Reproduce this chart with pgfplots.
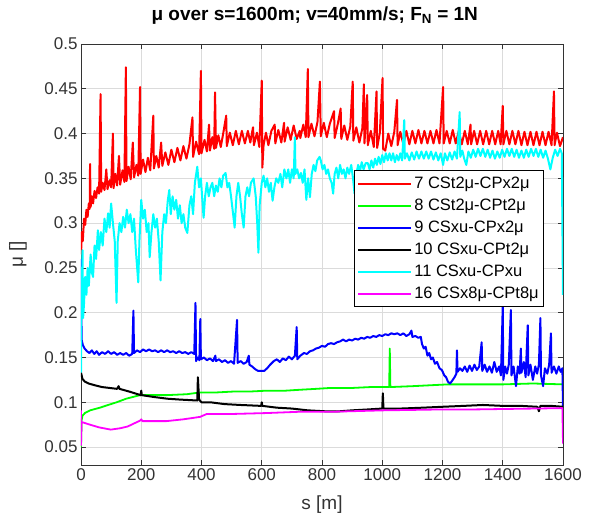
\documentclass[border=0pt]{standalone}
\usepackage{fontspec}
\setmainfont{Liberation Sans}
\usepackage{pgfplots}
\pgfplotsset{compat=1.18}

\definecolor{mred}{rgb}{1,0,0}
\definecolor{mgreen}{rgb}{0,1,0}
\definecolor{mblue}{rgb}{0,0,1}
\definecolor{mcyan}{rgb}{0,1,1}
\definecolor{mmag}{rgb}{1,0,1}
\definecolor{axgray}{gray}{0.2}

\begin{document}
\begin{tikzpicture}
\useasboundingbox (-81pt,-57pt) rectangle (509pt,465pt);
\begin{axis}[
  scale only axis, width=482pt, height=421pt,
  xmin=0, xmax=1600, ymin=0.03, ymax=0.5,
  xtick={0,200,...,1600},
  ytick={0.05,0.1,0.15,0.2,0.25,0.3,0.35,0.4,0.45,0.5},
  yticklabels={0.05,0.1,0.15,0.2,0.25,0.3,0.35,0.4,0.45,0.5},
  /pgf/number format/assume math mode=true,
  /pgf/number format/1000 sep={},
  tick label style={font=\fontsize{17}{20}\selectfont, text=axgray},
  tick align=inside, major tick length=5pt,
  every tick/.style={axgray, line width=0.6pt},
  axis line style={axgray, line width=0.6pt},
  grid=major, major grid style={black!14, line width=0.6pt},
  title={\textbf{μ over s=1600m; v=40mm/s; F\textsubscript{N} = 1N}},
  title style={font=\fontsize{19}{22}\selectfont, at={(axis description cs:0.485,1.0416)}, anchor=base},
  xlabel={s [m]}, ylabel={μ []},
  xlabel style={font=\fontsize{19}{22}\selectfont, text=axgray, at={(axis description cs:0.5,-0.095)}, anchor=center},
  ylabel style={font=\fontsize{19}{22}\selectfont, text=axgray, at={(axis description cs:-0.131,0.5)}, anchor=center, rotate=0},
  legend style={at={(0.566,0.7)}, anchor=north west, draw=black, fill=white, line width=0.6pt,
    font=\fontsize{16.5}{19}\selectfont, row sep=5pt, inner xsep=3pt, inner ysep=4.5pt},
  legend cell align=left,
  legend image code/.code={\draw[#1, line width=2.2pt] (0pt,0pt) -- (53pt,0pt);},
  every axis plot/.append style={line join=round},
]
% 7 CSt2u-CPx2u
\addplot[mred, line width=2pt] coordinates {
(0,0.265)(3,0.29)(6,0.28)(10,0.305)(14,0.298)(18,0.315)(22,0.307)(26,0.322)(29,0.316)(30,0.366)(32,0.318)(36,0.33)(40,0.322)(45,0.336)(50,0.328)(55,0.34)(60,0.333)(65,0.444)(67,0.335)(72,0.345)(78,0.337)(84,0.36)(88,0.338)(95,0.348)(100,0.34)(106,0.40)
(108,0.339)(114,0.355)(120,0.342)(126,0.375)(130,0.343)(138,0.359)(144,0.346)(149,0.474)(151,0.347)(158,0.363)(165,0.349)(172,0.39)(176,0.351)(184,0.365)(190,0.353)(196,0.452)(198,0.355)(206,0.371)(214,0.357)(222,0.373)(230,0.359)(240,0.42)(242,0.361)(250,0.375)(258,0.362)(266,0.39)(270,0.364)(280,0.379)(290,0.365)(300,0.382)(310,0.368)(320,0.384)(330,0.37)(340,0.386)(350,0.372)(360,0.388)(370,0.418)(372,0.374)(382,0.391)(392,0.377)(398,0.47)(400,0.378)(410,0.393)(418,0.38)(425,0.41)(428,0.381)(436,0.396)(442,0.383)(445,0.446)(448,0.384)(456,0.398)(464,0.385)(472,0.4)(482,0.42)(484,0.386)(494,0.401)(504,0.387)(514,0.403)(524,0.388)(534,0.403)(544,0.389)(554,0.403)(562,0.39)(571,0.407)(574,0.387)(584,0.401)(592,0.385)(600,0.459)(602,0.362)(606,0.387)(614,0.401)(622,0.387)(632,0.403)(643,0.41)(645,0.389)(655,0.404)(665,0.39)(674,0.412)(676,0.391)(686,0.407)(696,0.393)(706,0.409)(716,0.394)(726,0.403)(728,0.395)(738,0.41)(746,0.396)(753,0.472)(755,0.396)(765,0.411)(775,0.397)(785,0.413)(793,0.458)(796,0.397)(806,0.412)(816,0.396)(826,0.411)(840,0.425)(842,0.395)(852,0.41)(862,0.428)(864,0.394)(874,0.409)(884,0.393)(894,0.408)(902,0.458)(904,0.392)(914,0.407)(924,0.39)(934,0.406)(939,0.455)(941,0.389)(950,0.443)(952,0.387)(962,0.403)(972,0.385)(981,0.447)(983,0.384)(992,0.401)(1001,0.462)(1003,0.383)(1010,0.381)(1020,0.4)(1030,0.386)(1040,0.402)(1049,0.4375)(1051,0.387)(1060,0.402)(1070,0.388)(1080,0.403)(1090,0.388)(1100,0.403)(1110,0.389)(1120,0.404)(1130,0.389)(1140,0.403)(1150,0.389)(1160,0.403)(1170,0.389)(1180,0.404)(1190,0.389)(1202,0.452)(1204,0.389)(1214,0.403)(1224,0.389)(1234,0.404)(1244,0.389)(1254,0.403)(1264,0.388)(1274,0.403)(1284,0.388)(1293,0.41)(1295,0.388)(1305,0.403)(1315,0.388)(1325,0.403)(1335,0.388)(1345,0.403)(1355,0.388)(1365,0.403)(1375,0.388)(1385,0.403)(1393,0.388)(1400,0.431)(1402,0.388)(1412,0.403)(1422,0.388)(1432,0.403)(1442,0.388)(1452,0.403)(1462,0.387)(1472,0.402)(1482,0.387)(1492,0.402)(1502,0.387)(1512,0.402)(1522,0.387)(1532,0.402)(1542,0.387)(1552,0.402)(1562,0.387)(1570,0.447)(1572,0.387)(1580,0.401)(1590,0.386)(1600,0.396)
};
\addlegendentry{7 CSt2μ-CPx2μ}
% 8 CSt2u-CPt2u
\addplot[mgreen, line width=1.8pt] coordinates {
(0,0.05)(2,0.08)(5,0.085)(13,0.088)(30,0.091)(63,0.094)(90,0.097)(118,0.1)(150,0.104)(196,0.108)(230,0.108)(284,0.108)(351,0.109)(395,0.111)(450,0.111)(506,0.112)(560,0.112)(617,0.113)(680,0.113)(727,0.114)(780,0.115)(827,0.116)(900,0.116)(960,0.117)(1023,0.117)(1025,0.16)(1027,0.117)(1100,0.118)(1218,0.12)(1300,0.12)(1400,0.12)(1500,0.121)(1600,0.12)
};
\addlegendentry{8 CSt2μ-CPt2μ}
% 9 CSxu-CPx2u
\addplot[mblue, line width=2pt] coordinates {
(0,0.26)(2,0.17)(6,0.164)(12,0.16)(20,0.157)(28,0.155)(36,0.158)(44,0.154)(52,0.157)(60,0.153)(70,0.156)(80,0.154)(90,0.157)(100,0.154)(110,0.156)(120,0.153)(130,0.155)(140,0.153)(150,0.155)(160,0.152)(170,0.154)(174,0.2023)(176,0.155)(186,0.158)(196,0.156)(206,0.159)(216,0.157)(226,0.159)(236,0.157)(246,0.158)(256,0.156)(266,0.158)(276,0.156)(286,0.158)(296,0.156)(306,0.157)(316,0.155)(326,0.157)(336,0.155)(346,0.156)(356,0.154)(366,0.156)(376,0.154)(380,0.211)(382,0.146)(388,0.15)(393,0.147)(396,0.193)(398,0.148)(408,0.15)(418,0.147)(428,0.149)(438,0.146)(446,0.152)(448,0.146)(458,0.148)(468,0.145)(478,0.147)(488,0.144)(498,0.146)(508,0.143)(518,0.192)(520,0.144)(530,0.146)(540,0.143)(550,0.145)(557,0.152)(559,0.142)(568,0.14)(578,0.137)(588,0.135)(598,0.135)(608,0.135)(618,0.138)(628,0.142)(640,0.146)(650,0.148)(660,0.145)(670,0.149)(680,0.147)(690,0.151)(700,0.148)(710,0.152)(716,0.184)(718,0.148)(728,0.152)(740,0.155)(750,0.154)(760,0.157)(770,0.158)(780,0.16)(790,0.161)(800,0.163)(810,0.162)(820,0.165)(830,0.166)(840,0.165)(850,0.167)(860,0.168)(870,0.17)(880,0.168)(890,0.17)(900,0.169)(910,0.171)(920,0.17)(930,0.172)(940,0.171)(950,0.173)(960,0.172)(970,0.174)(980,0.173)(990,0.175)(1000,0.174)(1010,0.176)(1020,0.175)(1030,0.177)(1040,0.176)(1050,0.177)(1060,0.175)(1070,0.177)(1080,0.174)(1090,0.176)(1097,0.18)(1100,0.173)(1110,0.174)(1120,0.172)(1128,0.173)(1132,0.165)(1138,0.16)(1144,0.162)(1150,0.152)(1156,0.155)(1162,0.148)(1168,0.15)(1175,0.143)(1182,0.145)(1190,0.138)(1198,0.136)(1206,0.13)(1212,0.128)(1218,0.123)(1225,0.121)(1232,0.124)(1240,0.128)(1246,0.132)(1248,0.158)(1250,0.134)(1258,0.138)(1266,0.135)(1274,0.14)(1282,0.134)(1290,0.141)(1298,0.135)(1306,0.142)(1314,0.136)(1322,0.14)(1330,0.167)(1332,0.135)(1340,0.142)(1348,0.134)(1356,0.14)(1364,0.133)(1372,0.145)(1380,0.134)(1388,0.14)(1394,0.13)(1400,0.207)(1402,0.125)(1408,0.14)(1414,0.132)(1420,0.142)(1427,0.203)(1429,0.13)(1436,0.14)(1444,0.118)(1450,0.14)(1456,0.132)(1460,0.16)(1462,0.133)(1470,0.145)(1476,0.128)(1483,0.186)(1485,0.13)(1492,0.142)(1500,0.125)(1508,0.14)(1514,0.132)(1520,0.142)(1525,0.194)(1527,0.13)(1534,0.118)(1540,0.138)(1548,0.132)(1554,0.142)(1560,0.177)(1562,0.133)(1570,0.14)(1578,0.132)(1586,0.14)(1592,0.134)(1598,0.138)(1600,0.095)
};
\addlegendentry{9 CSxu-CPx2μ}
% 10 CSxu-CPt2u
\addplot[black, line width=2pt] coordinates {
(0,0.133)(5,0.126)(13,0.123)(25,0.121)(46,0.119)(70,0.117)(95,0.116)(120,0.115)(125,0.118)(128,0.115)(160,0.112)(198,0.108)(200,0.113)(202,0.108)(240,0.106)(287,0.104)(330,0.103)(386,0.102)(388,0.128)(392,0.103)(400,0.1)(430,0.1)(476,0.098)(530,0.097)(598,0.096)(600,0.1)(602,0.096)(650,0.094)(700,0.093)(753,0.091)(808,0.09)(860,0.09)(900,0.091)(952,0.092)(1000,0.093)(1002,0.11)(1004,0.093)(1060,0.093)(1135,0.094)(1200,0.095)(1270,0.096)(1334,0.097)(1400,0.096)(1460,0.096)(1515,0.095)(1520,0.09)(1525,0.096)(1560,0.096)(1600,0.095)
};
\addlegendentry{10 CSxu-CPt2μ}
% 11 CSxu-CPxu
\addplot[mcyan, line width=2pt] coordinates {
(0,0.133)(1,0.25)(3,0.22)(5,0.27)(7,0.194)(10,0.21)(14,0.24)(18,0.22)(22,0.25)(26,0.23)(32,0.265)(36,0.245)(40,0.24)(45,0.275)(50,0.26)(56,0.292)(60,0.27)(66,0.29)(72,0.275)(78,0.305)(84,0.29)(90,0.311)(95,0.295)(100,0.322)(106,0.3)(112,0.28)(118,0.211)(122,0.28)(128,0.3)(134,0.29)(140,0.307)(146,0.295)(152,0.315)(158,0.3)(164,0.31)(170,0.29)(176,0.305)(182,0.27)(190,0.234)(194,0.28)(200,0.326)(206,0.305)(212,0.315)(218,0.29)(224,0.3)(228,0.262)(234,0.29)(240,0.31)(246,0.295)(252,0.305)(258,0.28)(264,0.236)(270,0.29)(276,0.31)(282,0.3)(288,0.325)(293,0.337)(298,0.31)(304,0.33)(310,0.315)(316,0.326)(322,0.305)(328,0.32)(334,0.3)(340,0.31)(346,0.295)(353,0.289)(360,0.32)(366,0.33)(372,0.31)(378,0.345)(386,0.363)(392,0.34)(398,0.35)(403,0.325)(407,0.306)(412,0.33)(418,0.345)(424,0.33)(430,0.34)(436,0.345)(442,0.33)(448,0.342)(454,0.335)(460,0.35)(466,0.34)(472,0.353)(480,0.356)(486,0.34)(492,0.345)(498,0.33)(505,0.31)(510,0.295)(516,0.33)(522,0.345)(528,0.33)(534,0.31)(540,0.295)(546,0.33)(552,0.34)(558,0.33)(564,0.345)(573,0.35)(580,0.33)(585,0.3)(589,0.267)(593,0.32)(600,0.345)(606,0.353)(612,0.34)(618,0.35)(624,0.335)(630,0.345)(636,0.325)(642,0.34)(648,0.35)(655,0.345)(662,0.355)(668,0.34)(675,0.36)(682,0.35)(688,0.36)(694,0.345)(700,0.36)(706,0.35)(710,0.396)(712,0.355)(718,0.36)(724,0.35)(730,0.356)(736,0.345)(742,0.36)(748,0.326)(754,0.35)(760,0.329)(766,0.355)(772,0.365)(778,0.358)(784,0.37)(792,0.374)(796,0.37)(802,0.36)(808,0.365)(814,0.355)(820,0.36)(826,0.35)(832,0.345)(837,0.333)(842,0.355)(848,0.362)(854,0.35)(860,0.365)(866,0.355)(872,0.36)(878,0.35)(884,0.362)(890,0.355)(897,0.365)(903,0.35)(908,0.333)(914,0.355)(920,0.365)(926,0.358)(932,0.368)(938,0.36)(945,0.367)(952,0.367)(958,0.36)(964,0.37)(970,0.362)(976,0.372)(982,0.365)(988,0.374)(994,0.366)(1000,0.376)(1006,0.368)(1012,0.378)(1018,0.37)(1024,0.378)(1030,0.37)(1036,0.378)(1042,0.368)(1048,0.376)(1054,0.37)(1060,0.378)(1066,0.37)(1073,0.415)(1075,0.372)(1082,0.378)(1090,0.37)(1098,0.379)(1106,0.371)(1114,0.38)(1122,0.372)(1130,0.38)(1138,0.372)(1146,0.38)(1154,0.372)(1162,0.38)(1170,0.371)(1178,0.379)(1186,0.37)(1194,0.378)(1202,0.365)(1208,0.378)(1216,0.37)(1224,0.379)(1232,0.371)(1240,0.38)(1248,0.372)(1257,0.424)(1259,0.374)(1266,0.381)(1272,0.372)(1279,0.365)(1286,0.38)(1294,0.373)(1302,0.382)(1310,0.374)(1318,0.383)(1326,0.375)(1334,0.383)(1342,0.374)(1350,0.382)(1358,0.373)(1366,0.381)(1374,0.372)(1382,0.38)(1390,0.373)(1398,0.382)(1406,0.374)(1414,0.383)(1422,0.375)(1430,0.383)(1438,0.374)(1446,0.382)(1454,0.373)(1462,0.381)(1470,0.373)(1478,0.382)(1486,0.374)(1494,0.383)(1502,0.375)(1510,0.383)(1518,0.374)(1526,0.382)(1534,0.373)(1542,0.381)(1550,0.372)(1558,0.36)(1566,0.373)(1574,0.382)(1582,0.375)(1590,0.383)(1596,0.378)(1600,0.22)
};
\addlegendentry{11 CSxu-CPxu}
% 16 CSx8u-CPt8u
\addplot[mmag, line width=1.8pt] coordinates {
(0,0.091)(0,0.052)(2,0.078)(30,0.075)(60,0.072)(99,0.0695)(130,0.071)(155,0.073)(180,0.077)(196,0.0795)(200,0.081)(204,0.079)(284,0.079)(340,0.081)(395,0.0837)(418,0.087)(506,0.087)(617,0.088)(731,0.0895)(841,0.0895)(1003,0.091)(1100,0.0915)(1192,0.092)(1300,0.092)(1400,0.0925)(1500,0.093)(1598,0.0935)(1600,0.054)
};
\addlegendentry{16 CSx8μ-CPt8μ}
\end{axis}
\end{tikzpicture}
\end{document}
